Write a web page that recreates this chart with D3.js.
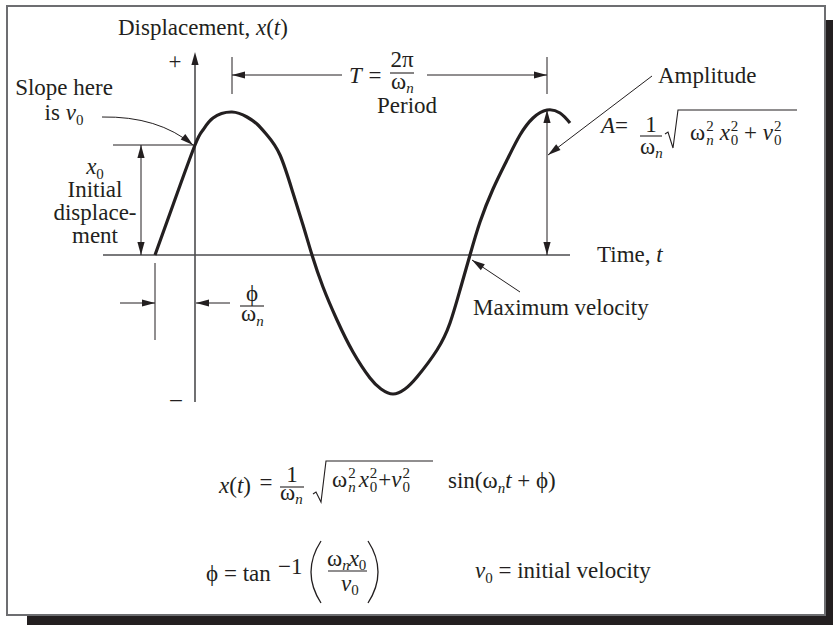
<!DOCTYPE html>
<html>
<head>
  <meta charset="utf-8">
  <title>Free vibration response</title>
  <script src="https://d3js.org/d3.v7.min.js"></script>
  <style>
    body { margin: 0; background: #fff; }
    text { font-family: "Liberation Serif", "Times New Roman", serif; fill: #231f20; }
  </style>
</head>
<body>
  <svg id="chart" width="833" height="625"></svg>

  <script>
    // curve: time (arbitrary units, 0 = vertical axis) vs displacement
    const timeT = [-40, -22, 0, 8, 18, 37, 52, 62, 72, 85, 98, 108, 117, 128, 142, 158, 175, 186,
                   198, 210, 222, 242, 255, 265, 275, 285, 298, 312, 325, 338, 352, 365, 375];
    const dispX = [0, 50, 110, 125, 137, 143, 138, 131, 120, 100, 62, 30, 0, -32, -65, -97, -123, -134,
                   -139, -134, -122, -95, -68, -35, 0, 33, 66, 95, 120, 137, 145, 142, 132];

    // key values used by the annotations
    const timeRange = [-92, 375];
    const dispRange = [-147, 203];
    const x0Val = 110;          // displacement at t = 0
    const startT = -40;         // zero crossing before the axis (phase)
    const peakT = [37, 352];    // the two peaks one period apart
    const ampVal = 145;
    const crossT = 275;         // up-crossing, maximum velocity

    const svg = d3.select("#chart");
    const FS = 23, SS = 15;

    // frame with drop shadow
    svg.append("rect").attr("x", 27).attr("y", 20).attr("width", 807).attr("height", 606).attr("fill", "#231f20");
    svg.append("rect").attr("x", 7).attr("y", 6).attr("width", 818).attr("height", 609)
      .attr("fill", "#fff").attr("stroke", "#6d6e71").attr("stroke-width", 2);

    const x = d3.scaleLinear().domain([-92, 375]).range([103, 570]);
    const y = d3.scaleLinear().domain([-145, 145]).range([400, 110]);

    const g = svg.append("g");

    function head(px, py, ang) {
      const L = 13, W = 3.6;
      const p = [[0, 0], [-L, -W], [-L, W]].map(([a, b]) =>
        [px + a * Math.cos(ang) - b * Math.sin(ang), py + a * Math.sin(ang) + b * Math.cos(ang)]);
      g.append("path").attr("d", "M" + p.join("L") + "Z").attr("fill", "#231f20");
    }
    function line(x1, y1, x2, y2, w, c) {
      g.append("line").attr("x1", x1).attr("y1", y1).attr("x2", x2).attr("y2", y2)
        .attr("stroke", c || "#231f20").attr("stroke-width", w || 1);
    }
    function arrow(x1, y1, x2, y2) {
      line(x1, y1, x2, y2);
      head(x2, y2, Math.atan2(y2 - y1, x2 - x1));
    }
    function dblArrow(x1, y1, x2, y2) {
      line(x1, y1, x2, y2);
      head(x2, y2, Math.atan2(y2 - y1, x2 - x1));
      head(x1, y1, Math.atan2(y1 - y2, x1 - x2));
    }
    // text made of runs: [str, italic, size, dx, dy]
    function tx(px, py, runs, anchor, size) {
      const t = svg.append("text").attr("x", px).attr("y", py)
        .attr("font-size", size || FS).attr("text-anchor", anchor || "start");
      (typeof runs === "string" ? [[runs]] : runs).forEach(r => {
        const s = t.append("tspan").text(r[0]);
        if (r[1]) s.attr("font-style", "italic");
        if (r[2]) s.attr("font-size", r[2]);
        if (r[3]) s.attr("dx", r[3]);
        if (r[4]) s.attr("dy", r[4]);
      });
      return t;
    }
    function bar(x1, x2, yy) { line(x1, yy, x2, yy, 1.1); }
    function radical(x1, yy, top, bottom, x2) {
      g.append("path")
        .attr("d", `M${x1},${yy + 2}L${x1 + 3},${yy}L${x1 + 8},${bottom}L${x1 + 13},${top}L${x2},${top}`)
        .attr("fill", "none").attr("stroke", "#231f20").attr("stroke-width", 1.1);
    }

    // axes
    line(x(timeRange[0]), y(0), x(timeRange[1]), y(0), 1.6, "#4d4d4f");
    line(x(0), y(dispRange[0]), x(0), y(dispRange[1]) + 10, 1.6, "#4d4d4f");
    head(x(0), y(dispRange[1]), -Math.PI / 2);
    tx(x(0) - 20, y(dispRange[1]) + 17, "+", "middle");
    tx(x(0) - 19, y(dispRange[0]) + 4, "\u2013", "middle");

    // the response curve
    g.append("path")
      .datum(timeT.map((t, i) => [t, dispX[i]]))
      .attr("d", d3.line().x(d => x(d[0])).y(d => y(d[1])).curve(d3.curveNatural))
      .attr("fill", "none").attr("stroke", "#231f20").attr("stroke-width", 3.2)
      .attr("stroke-linejoin", "round");

    // axis titles
    tx(118, 35, [["Displacement, "], ["x", 1], ["("], ["t", 1], [")"]]);
    tx(597, 262, [["Time, "], ["t", 1]]);

    // slope here is v0
    tx(64, 95, "Slope here", "middle");
    tx(64, 120, [["is "], ["v", 1], ["0", 0, SS, 0, 5]], "middle");
    const sx = x(0) - 2, sy = y(x0Val);
    g.append("path").attr("d", `M102,117Q158,116 ${sx},${sy}`)
      .attr("fill", "none").attr("stroke", "#231f20").attr("stroke-width", 1);
    head(sx, sy, Math.atan2(sy - 116, sx - 158));

    // initial displacement
    line(113, y(x0Val), x(0), y(x0Val));
    dblArrow(141, y(x0Val), 141, y(0));
    tx(95, 174, [["x", 1], ["0", 0, SS, 0, 5]], "middle");
    tx(95, 197, "Initial", "middle");
    tx(95, 220, "displace-", "middle");
    tx(95, 243, "ment", "middle");

    // phase shift
    line(x(startT), y(0) + 8, x(startT), y(0) + 85);
    arrow(x(startT) - 35, 303, x(startT), 303);
    arrow(x(0) + 35, 303, x(0) + 1, 303);
    tx(252, 301, "\u03D5", "middle");
    bar(240, 264, 306);
    tx(241, 321, [["\u03C9"], ["n", 1, SS, 0, 5]]);

    // period
    peakT.forEach(t => line(x(t), 57, x(t), 94));
    arrow(342, 75, x(peakT[0]), 75);
    arrow(427, 75, x(peakT[1]), 75);
    tx(349, 83, [["T", 1]]);
    tx(375, 83, "=", "middle");
    tx(402, 67, [["2\u03C0"]], "middle");
    bar(390, 414, 73);
    tx(391, 89, [["\u03C9"], ["n", 1, SS, 0, 4]]);
    tx(407, 113, "Period", "middle");

    // amplitude
    dblArrow(x(peakT[1]), y(ampVal), x(peakT[1]), y(0));
    arrow(652, 76, x(peakT[1]) + 1, 155);
    tx(658, 83, "Amplitude");
    tx(601, 133, [["A", 1], ["="]]);
    tx(651, 132, "1", "middle");
    bar(640, 662, 136);
    tx(640, 154, [["\u03C9"], ["n", 1, SS, 0, 4]]);
    radical(665, 132, 110, 148, 797);
    tx(690, 140, [["\u03C9"], ["2", 0, SS, 1, -9], ["n", 1, SS, -7.5, 14], ["x", 1, FS, 6, -5],
                  ["2", 0, SS, 1, -9], ["0", 0, SS, -7.5, 14], [" + ", 0, FS, 0, -5], ["v", 1],
                  ["2", 0, SS, 1, -9], ["0", 0, SS, -7.5, 14]]);

    // maximum velocity
    arrow(520, 292, x(crossT) + 2, y(0) + 5);
    tx(473, 315, "Maximum velocity");

    // equation of motion
    tx(219, 493, [["x", 1], ["("], ["t", 1], [")"]]);
    tx(266, 490, "=", "middle");
    tx(292, 482, "1", "middle");
    bar(280, 304, 487);
    tx(280, 500, [["\u03C9"], ["n", 1, SS, 0, 4]]);
    radical(313, 492, 461, 502, 433);
    tx(332, 487, [["\u03C9"], ["2", 0, SS, 1, -9], ["n", 1, SS, -7.5, 14], ["x", 1, FS, 3, -5],
                  ["2", 0, SS, 1, -9], ["0", 0, SS, -7.5, 14], ["+", 0, FS, 1, -5], ["v", 1],
                  ["2", 0, SS, 1, -9], ["0", 0, SS, -7.5, 14]]);
    tx(448, 488, [["sin(\u03C9"], ["n", 1, SS, 0, 5], ["t", 1, FS, 0, -5], [" + \u03D5)"]]);

    // phase angle
    tx(206, 581, "\u03D5");
    tx(224, 581, "= tan");
    tx(278, 574, "\u22121");
    g.append("path").attr("d", "M321,541Q301,572 321,603").attr("fill", "none").attr("stroke", "#231f20").attr("stroke-width", 1.3);
    g.append("path").attr("d", "M368,541Q388,572 368,603").attr("fill", "none").attr("stroke", "#231f20").attr("stroke-width", 1.3);
    tx(327, 566, [["\u03C9"], ["n", 1, SS, 0, 4], ["x", 1, FS, -1, -4], ["0", 0, SS, 0, 4]]);
    bar(328, 367, 571);
    tx(341, 591, [["v", 1], ["0", 0, SS, 0, 4]]);
    tx(475, 578, [["v", 1], ["0", 0, SS, 0, 5], [" = initial velocity", 0, FS, 0, -5]]);
  </script>
</body>
</html>
